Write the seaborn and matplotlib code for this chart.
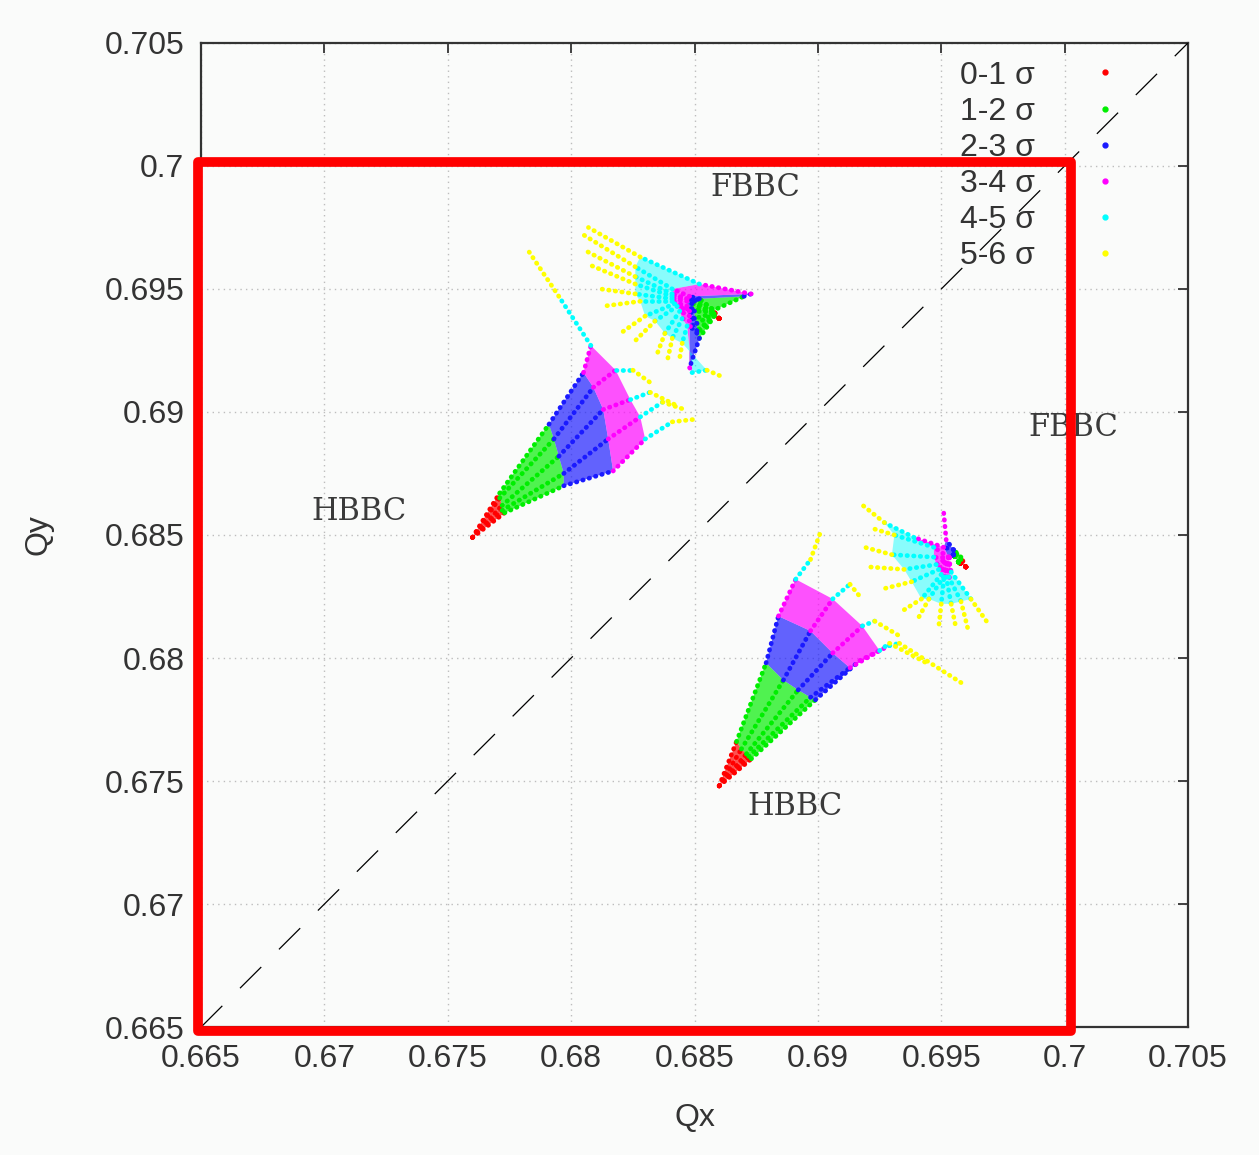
import matplotlib
matplotlib.use("Agg")
import matplotlib.pyplot as plt
from matplotlib.lines import Line2D
from matplotlib.patches import Rectangle
import pandas as pd
import seaborn as sns

# amplitude bands and their colours
BAND_LABELS = ["0-1 σ", "1-2 σ", "2-3 σ", "3-4 σ", "4-5 σ", "5-6 σ"]
BAND_COLORS = ["#ff0000", "#00ee00", "#1a1aff", "#ff00ff", "#00ffff", "#ffff00"]

TICKS = [0.665, 0.67, 0.675, 0.68, 0.685, 0.69, 0.695, 0.7, 0.705]
TICK_LABELS = ["0.665", "0.67", "0.675", "0.68", "0.685", "0.69", "0.695", "0.7", "0.705"]

# Each ray: tunes at amplitudes 0, 1, 2, 3, 4, 5, 6 sigma
# Head-on beam-beam, no compensation (left footprint)
HBBC1_QX = [
    [0.6760, 0.6771, 0.6791, 0.6805, 0.6808, 0.6795, 0.6783],
    [0.6760, 0.6771, 0.6793, 0.6809, 0.6818, 0.6825, 0.6832],
    [0.6760, 0.6772, 0.6795, 0.6813, 0.6824, 0.6832, 0.6842],
    [0.6760, 0.6772, 0.6797, 0.6815, 0.6828, 0.6837, 0.6846],
    [0.6760, 0.6773, 0.6797, 0.6817, 0.6830, 0.6841, 0.6850],
]
HBBC1_QY = [
    [0.6849, 0.6867, 0.6895, 0.6916, 0.6927, 0.6947, 0.6965],
    [0.6849, 0.6865, 0.6889, 0.6910, 0.6917, 0.6917, 0.6912],
    [0.6849, 0.6862, 0.6882, 0.6901, 0.6905, 0.6908, 0.6903],
    [0.6849, 0.6860, 0.6875, 0.6889, 0.6898, 0.6904, 0.6901],
    [0.6849, 0.6859, 0.6870, 0.6876, 0.6889, 0.6896, 0.6897],
]

# Head-on beam-beam, no compensation (lower footprint)
HBBC2_QX = [
    [0.6860, 0.6867, 0.6879, 0.6884, 0.6891, 0.6897, 0.6901],
    [0.6860, 0.6869, 0.6886, 0.6897, 0.6906, 0.6913, 0.6917],
    [0.6860, 0.6871, 0.6892, 0.6906, 0.6918, 0.6923, 0.6933],
    [0.6860, 0.6872, 0.6897, 0.6913, 0.6925, 0.6929, 0.6944],
    [0.6860, 0.6873, 0.6899, 0.6917, 0.6929, 0.6933, 0.6958],
]
HBBC2_QY = [
    [0.6748, 0.6766, 0.6798, 0.6817, 0.6832, 0.6840, 0.6851],
    [0.6748, 0.6763, 0.6791, 0.6811, 0.6824, 0.6830, 0.6825],
    [0.6748, 0.6761, 0.6787, 0.6802, 0.6813, 0.6815, 0.6809],
    [0.6748, 0.6760, 0.6784, 0.6796, 0.6803, 0.6806, 0.6798],
    [0.6748, 0.6759, 0.6783, 0.6799, 0.6805, 0.6806, 0.6790],
]

# Fully compensated beam-beam (upper footprint)
FBBC1_QX = [
    [0.6860, 0.6857, 0.6870, 0.6873, 0.6852, 0.6828, 0.6807],
    [0.6860, 0.6857, 0.6852, 0.6848, 0.6841, 0.6826, 0.6805],
    [0.6860, 0.6857, 0.6851, 0.6847, 0.6841, 0.6826, 0.6805],
    [0.6860, 0.6857, 0.6850, 0.6847, 0.6841, 0.6826, 0.6807],
    [0.6860, 0.6857, 0.6849, 0.6847, 0.6841, 0.6826, 0.6812],
    [0.6860, 0.6857, 0.6849, 0.6847, 0.6841, 0.6828, 0.6813],
    [0.6860, 0.6857, 0.6850, 0.6847, 0.6842, 0.6830, 0.6820],
    [0.6860, 0.6857, 0.6850, 0.6848, 0.6843, 0.6834, 0.6825],
    [0.6860, 0.6858, 0.6851, 0.6848, 0.6844, 0.6838, 0.6835],
    [0.6860, 0.6858, 0.6851, 0.6848, 0.6845, 0.6841, 0.6839],
    [0.6860, 0.6858, 0.6851, 0.6848, 0.6847, 0.6845, 0.6844],
    [0.6860, 0.6858, 0.6852, 0.6848, 0.6849, 0.6855, 0.6862],
]
FBBC1_QY = [
    [0.6938, 0.6941, 0.6947, 0.6948, 0.6952, 0.6963, 0.6975],
    [0.6938, 0.6942, 0.6946, 0.6947, 0.6950, 0.6959, 0.6972],
    [0.6938, 0.6942, 0.6946, 0.6946, 0.6948, 0.6955, 0.6966],
    [0.6938, 0.6941, 0.6945, 0.6946, 0.6947, 0.6952, 0.6960],
    [0.6938, 0.6941, 0.6944, 0.6945, 0.6946, 0.6948, 0.6950],
    [0.6938, 0.6941, 0.6942, 0.6943, 0.6945, 0.6945, 0.6943],
    [0.6938, 0.6941, 0.6941, 0.6942, 0.6944, 0.6939, 0.6932],
    [0.6938, 0.6940, 0.6938, 0.6941, 0.6943, 0.6937, 0.6928],
    [0.6938, 0.6940, 0.6936, 0.6939, 0.6941, 0.6932, 0.6924],
    [0.6938, 0.6939, 0.6933, 0.6937, 0.6938, 0.6930, 0.6921],
    [0.6938, 0.6939, 0.6932, 0.6935, 0.6935, 0.6928, 0.6922],
    [0.6938, 0.6939, 0.6930, 0.6918, 0.6916, 0.6917, 0.6914],
]

# Fully compensated beam-beam (right footprint)
FBBC2_QX = [
    [0.6960, 0.6958, 0.6955, 0.6952, 0.6951, 0.6951, 0.6951],
    [0.6960, 0.6958, 0.6955, 0.6951, 0.6939, 0.6927, 0.6917],
    [0.6960, 0.6957, 0.6955, 0.6953, 0.6947, 0.6931, 0.6921],
    [0.6960, 0.6957, 0.6955, 0.6953, 0.6947, 0.6930, 0.6919],
    [0.6960, 0.6957, 0.6955, 0.6953, 0.6948, 0.6935, 0.6921],
    [0.6960, 0.6957, 0.6955, 0.6953, 0.6949, 0.6938, 0.6926],
    [0.6960, 0.6957, 0.6955, 0.6953, 0.6950, 0.6942, 0.6934],
    [0.6960, 0.6957, 0.6955, 0.6953, 0.6951, 0.6945, 0.6940],
    [0.6960, 0.6957, 0.6955, 0.6953, 0.6951, 0.6950, 0.6949],
    [0.6960, 0.6957, 0.6955, 0.6953, 0.6952, 0.6954, 0.6956],
    [0.6960, 0.6957, 0.6955, 0.6953, 0.6953, 0.6958, 0.6961],
    [0.6960, 0.6957, 0.6955, 0.6953, 0.6954, 0.6962, 0.6969],
]
FBBC2_QY = [
    [0.6837, 0.6841, 0.6844, 0.6848, 0.6859, 0.6859, 0.6859],
    [0.6837, 0.6840, 0.6844, 0.6845, 0.6849, 0.6855, 0.6863],
    [0.6837, 0.6839, 0.6842, 0.6841, 0.6845, 0.6850, 0.6853],
    [0.6837, 0.6839, 0.6842, 0.6841, 0.6841, 0.6842, 0.6845],
    [0.6837, 0.6839, 0.6842, 0.6841, 0.6838, 0.6836, 0.6837],
    [0.6837, 0.6839, 0.6842, 0.6841, 0.6836, 0.6831, 0.6828],
    [0.6837, 0.6839, 0.6842, 0.6841, 0.6834, 0.6824, 0.6819],
    [0.6837, 0.6839, 0.6842, 0.6841, 0.6833, 0.6824, 0.6815],
    [0.6837, 0.6839, 0.6842, 0.6841, 0.6832, 0.6822, 0.6813],
    [0.6837, 0.6839, 0.6842, 0.6841, 0.6833, 0.6822, 0.6812],
    [0.6837, 0.6839, 0.6842, 0.6841, 0.6833, 0.6823, 0.6811],
    [0.6837, 0.6839, 0.6842, 0.6841, 0.6835, 0.6824, 0.6814],
]

# name: (qx rays, qy rays, number of shaded bands, ray gaps left unshaded from band 3 on)
FOOTPRINTS = {
    "HBBC1": (HBBC1_QX, HBBC1_QY, 4, ()),
    "HBBC2": (HBBC2_QX, HBBC2_QY, 4, ()),
    "FBBC1": (FBBC1_QX, FBBC1_QY, 5, ()),
    "FBBC2": (FBBC2_QX, FBBC2_QY, 5, (0,)),
}

# footprint labels: text, qx, qy
LABEL_TEXT = ["FBBC", "FBBC", "HBBC", "HBBC"]
LABEL_QX = [0.68745, 0.70036, 0.67139, 0.68907]
LABEL_QY = [0.69911, 0.68935, 0.68594, 0.67398]

DIAG = [0.665, 0.705]

# long table of ray segments, one unit per (footprint, ray, band)
rows = []
for name, (qx_rays, qy_rays, _, _) in FOOTPRINTS.items():
    for r, (xs, ys) in enumerate(zip(qx_rays, qy_rays)):
        for b, lab in enumerate(BAND_LABELS):
            for k in (b, b + 1):
                rows.append({"seg": f"{name}-{r}-{b}", "band": lab,
                             "Qx": xs[k], "Qy": ys[k]})
segments = pd.DataFrame(rows)

sns.set_theme(style="white")
plt.rcParams["font.family"] = ["Liberation Sans", "DejaVu Sans"]
plt.rcParams["text.color"] = "#333333"

fig = plt.figure(figsize=(12.59, 11.55), dpi=100, facecolor="#fafbfa")
ax = fig.add_axes([0.1597, 0.1108, 0.7839, 0.8520])
ax.set_facecolor("#fafbfa")

# shaded cells between neighbouring rays
for name, (qx_rays, qy_rays, nfill, gaps) in FOOTPRINTS.items():
    for b in range(nfill):
        alpha = 0.68 if b < 4 else 0.45
        for i in range(len(qx_rays) - 1):
            if b >= 3 and i in gaps:
                continue
            xa, ya = qx_rays[i], qy_rays[i]
            xb, yb = qx_rays[i + 1], qy_rays[i + 1]
            ax.fill([xa[b], xa[b + 1], xb[b + 1], xb[b]],
                    [ya[b], ya[b + 1], yb[b + 1], yb[b]],
                    color=BAND_COLORS[b], alpha=alpha, lw=0, zorder=2)

sns.lineplot(data=segments, x="Qx", y="Qy", hue="band", units="seg",
             estimator=None, sort=False,
             palette=dict(zip(BAND_LABELS, BAND_COLORS)),
             hue_order=BAND_LABELS, linewidth=3.4,
             linestyle=(0, (0.1, 1.3)), dash_capstyle="round",
             legend=False, ax=ax, zorder=3)

# Qx = Qy diagonal
sns.lineplot(x=DIAG, y=DIAG, color="black", linewidth=0.9,
             linestyle=(0, (24, 20)), ax=ax, zorder=4)

for txt, x, y in zip(LABEL_TEXT, LABEL_QX, LABEL_QY):
    ax.text(x, y, txt, family=["DejaVu Serif"], fontsize=22,
            ha="center", va="center", color="#3a3a3a", zorder=5)

ax.set_xlim(0.665, 0.705)
ax.set_ylim(0.665, 0.705)
ax.set_xticks(TICKS)
ax.set_xticklabels(TICK_LABELS)
ax.set_yticks(TICKS)
ax.set_yticklabels(TICK_LABELS)
ax.tick_params(direction="in", length=7, width=1.3, top=True, right=True,
               labelsize=23, pad=12, color="#333333", labelcolor="#333333")
for sp in ax.spines.values():
    sp.set_visible(True)
    sp.set_color("#333333")
    sp.set_linewidth(1.6)
ax.grid(True, color="#bdbdbd", linestyle=(0, (1, 3)), linewidth=1.0)
ax.set_axisbelow(True)
ax.set_xlabel("Qx", fontsize=23, labelpad=21, color="#333333")
ax.set_ylabel("Qy", fontsize=23, labelpad=37, color="#333333")

handles = [Line2D([], [], marker="o", markersize=3.5, linestyle="none",
                  color=c) for c in BAND_COLORS]
ax.legend(handles, BAND_LABELS, loc="upper right",
          bbox_to_anchor=(0.942, 0.995), frameon=False, markerfirst=False,
          fontsize=23, handlelength=0.8, handletextpad=1.8,
          labelspacing=0.19, borderaxespad=0)

# highlighted region
ax.add_patch(Rectangle((0.66488, 0.66484), 0.03536, 0.03532, fill=False,
                       edgecolor="#ff0000", linewidth=7, joinstyle="round",
                       clip_on=False, zorder=10))

fig.savefig("out.png", dpi=100, facecolor=fig.get_facecolor())
